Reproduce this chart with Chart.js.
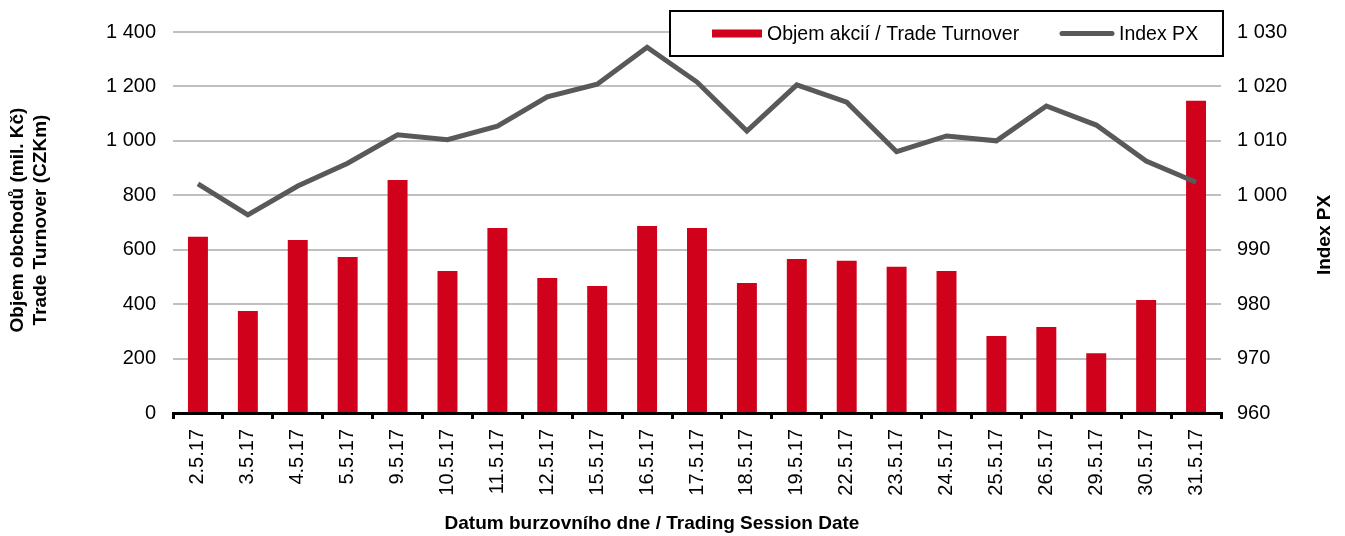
<!DOCTYPE html>
<html>
<head>
<meta charset="utf-8">
<script src="https://cdn.jsdelivr.net/npm/chart.js@4.4.0/dist/chart.umd.min.js"></script>
<style>
html,body{margin:0;padding:0;background:#fff;}
#wrap{width:1345px;height:536px;position:relative;}
</style>
</head>
<body>
<div id="wrap"><canvas id="c" width="1345" height="536"></canvas></div>
<script>
const categories = ["2.5.17","3.5.17","4.5.17","5.5.17","9.5.17","10.5.17","11.5.17","12.5.17","15.5.17","16.5.17","17.5.17","18.5.17","19.5.17","22.5.17","23.5.17","24.5.17","25.5.17","26.5.17","29.5.17","30.5.17","31.5.17"];
const turnover = [648,375,636,573,856,522,680,496,467,687,680,478,566,559,537,522,283,316,220,415,1147];
const indexPX = [1002.1,996.4,1001.7,1005.9,1011.1,1010.2,1012.7,1018.1,1020.4,1027.2,1020.8,1011.8,1020.3,1017.1,1008.0,1010.9,1010.0,1016.4,1012.9,1006.3,1002.4];
const leftTicks = [0,200,400,600,800,1000,1200,1400];
const rightTicks = [960,970,980,990,1000,1010,1020,1030];
const seriesNames = ["Objem akcií / Trade Turnover","Index PX"];
const titles = {
  x: "Datum burzovního dne / Trading Session Date",
  left: ["Objem obchodů (mil. Kč)","Trade Turnover (CZKm)"],
  right: "Index PX"
};

const RED = '#d0011b';
const GREY = '#595959';
const FONT = '"Liberation Sans", Arial, sans-serif';

function fmt(v){
  const s = String(Math.round(v));
  return s.replace(/\B(?=(\d{3})+(?!\d))/g, ' ');
}

const overlay = {
  id: 'overlay',
  afterDraw(chart){
    const ctx = chart.ctx;
    ctx.save();
    ctx.fillStyle = '#000';
    ctx.font = 'bold 19px ' + FONT;
    ctx.textAlign = 'center';
    ctx.textBaseline = 'middle';
    ctx.fillText(titles.x, 652, 524);
    ctx.save();
    ctx.translate(18, 220);
    ctx.rotate(-Math.PI/2);
    ctx.fillText(titles.left[0], 0, 0);
    ctx.fillText(titles.left[1], 0, 23);
    ctx.restore();
    ctx.save();
    ctx.translate(1325, 235);
    ctx.rotate(-Math.PI/2);
    ctx.fillText(titles.right, 0, 0);
    ctx.restore();
    const bx = 670, by = 11, bw = 553, bh = 45;
    ctx.fillStyle = '#fff';
    ctx.fillRect(bx, by, bw, bh);
    ctx.lineWidth = 2;
    ctx.strokeStyle = '#000';
    ctx.strokeRect(bx, by, bw, bh);
    const cy = by + bh/2;
    ctx.fillStyle = RED;
    ctx.fillRect(712, cy - 4, 50, 8);
    ctx.fillStyle = '#000';
    ctx.font = '19.5px ' + FONT;
    ctx.textAlign = 'left';
    ctx.fillText(seriesNames[0], 767, cy + 1);
    ctx.strokeStyle = GREY;
    ctx.lineWidth = 5;
    ctx.lineCap = 'round';
    ctx.beginPath();
    ctx.moveTo(1062, cy);
    ctx.lineTo(1112, cy);
    ctx.stroke();
    ctx.fillText(seriesNames[1], 1119, cy + 1);
    ctx.restore();
  }
};

new Chart(document.getElementById('c'), {
  data: {
    labels: categories,
    datasets: [
      {
        type: 'line',
        label: seriesNames[1],
        data: indexPX,
        yAxisID: 'y1',
        borderColor: GREY,
        borderWidth: 5,
        pointRadius: 0,
        tension: 0,
        order: 0
      },
      {
        type: 'bar',
        label: seriesNames[0],
        data: turnover,
        yAxisID: 'y',
        backgroundColor: RED,
        barPercentage: 0.4,
        categoryPercentage: 1.0,
        order: 1
      }
    ]
  },
  options: {
    responsive: false,
    animation: false,
    devicePixelRatio: 1,
    layout: { padding: { top: 32, left: 0, right: 0, bottom: 0 } },
    plugins: { legend: { display: false }, tooltip: { enabled: false } },
    scales: {
      x: {
        offset: true,
        grid: { display: true, drawOnChartArea: false, drawTicks: true, tickLength: 6, color: '#000', lineWidth: 3, offset: true },
        border: { display: true, color: '#000', width: 3 },
        ticks: { color: '#000', font: { family: FONT, size: 20 }, minRotation: 90, maxRotation: 90, padding: 10, autoSkip: false },
        afterFit(s){ s.height = 123; }
      },
      y: {
        position: 'left',
        min: 0, max: 1400,
        afterBuildTicks(s){ s.ticks = leftTicks.map(v => ({value: v})); },
        grid: { color: '#c0c0c0', lineWidth: 2, drawTicks: false },
        border: { display: false },
        ticks: { color: '#000', font: { family: FONT, size: 20 }, padding: 17, callback: v => fmt(v) },
        afterFit(s){ s.width = 173; }
      },
      y1: {
        position: 'right',
        min: 960, max: 1030,
        afterBuildTicks(s){ s.ticks = rightTicks.map(v => ({value: v})); },
        grid: { drawOnChartArea: false, drawTicks: false },
        border: { display: false },
        ticks: { color: '#000', font: { family: FONT, size: 20 }, padding: 16, callback: v => fmt(v) },
        afterFit(s){ s.width = 124; }
      }
    }
  },
  plugins: [overlay]
});
</script>
</body>
</html>
